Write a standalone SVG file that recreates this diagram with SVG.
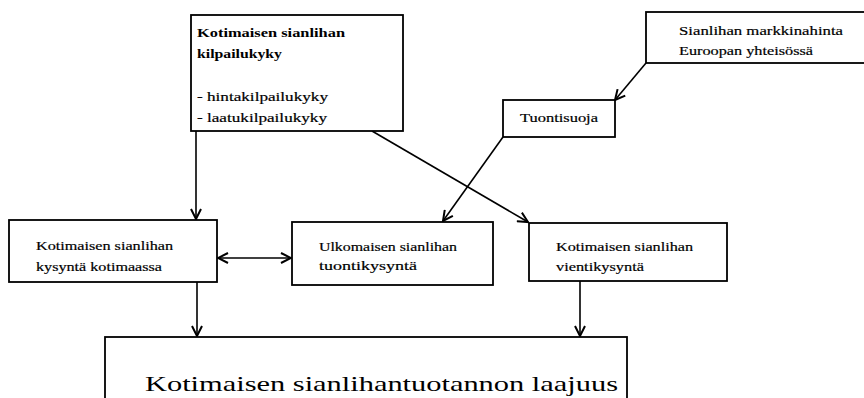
<svg xmlns="http://www.w3.org/2000/svg" width="864" height="398" viewBox="0 0 864 398">
<defs>
<style>
.box{fill:#fff;stroke:#000;stroke-width:1.8}
.t{font-size:13.5px;fill:#000;stroke:#000;stroke-width:0.2}
.b{font-weight:bold;stroke-width:0}
.big{font-size:22px;fill:#000}
.c{stroke:#000;stroke-width:1.6;fill:none}
</style>
<marker id="ah" viewBox="0 0 12 12" refX="11" refY="6" markerWidth="12" markerHeight="12" markerUnits="userSpaceOnUse" orient="auto-start-reverse">
<polyline points="1,1 11,6 1,11" fill="none" stroke="#000" stroke-width="2"/>
</marker>
</defs>
<rect width="864" height="398" fill="#fff"/>
<g id="connectors">
<line class="c" x1="196" y1="131" x2="196" y2="219" marker-end="url(#ah)"/>
<line class="c" x1="372" y1="131" x2="528" y2="222" marker-end="url(#ah)"/>
<line class="c" x1="646" y1="63" x2="615" y2="100" marker-end="url(#ah)"/>
<line class="c" x1="503" y1="137" x2="443" y2="221" marker-end="url(#ah)"/>
<line class="c" x1="218" y1="258" x2="291" y2="258" marker-start="url(#ah)" marker-end="url(#ah)"/>
<line class="c" x1="197" y1="282" x2="197" y2="336" marker-end="url(#ah)"/>
<line class="c" x1="580" y1="281" x2="580" y2="336" marker-end="url(#ah)"/>
</g>
<g font-family="Liberation Serif, Times New Roman, serif">
<g id="kilpailukyky">
<rect class="box" x="191" y="15" width="212" height="116"/>
<text class="t b" x="197" y="37" textLength="148" lengthAdjust="spacingAndGlyphs">Kotimaisen sianlihan</text>
<text class="t b" x="197" y="58" textLength="85" lengthAdjust="spacingAndGlyphs">kilpailukyky</text>
<text class="t" x="197" y="101" textLength="131" lengthAdjust="spacingAndGlyphs">- hintakilpailukyky</text>
<text class="t" x="197" y="122" textLength="130" lengthAdjust="spacingAndGlyphs">- laatukilpailukyky</text>
</g>
<g id="markkinahinta">
<rect class="box" x="646" y="12" width="222" height="51"/>
<text class="t" x="679" y="35" textLength="164" lengthAdjust="spacingAndGlyphs">Sianlihan markkinahinta</text>
<text class="t" x="679" y="55" textLength="134" lengthAdjust="spacingAndGlyphs">Euroopan yhteisössä</text>
</g>
<g id="tuontisuoja">
<rect class="box" x="503" y="100" width="112" height="37"/>
<text class="t" x="520" y="122" textLength="78" lengthAdjust="spacingAndGlyphs">Tuontisuoja</text>
</g>
<g id="kysynta">
<rect class="box" x="9" y="220" width="208" height="62"/>
<text class="t" x="36" y="250" textLength="137" lengthAdjust="spacingAndGlyphs">Kotimaisen sianlihan</text>
<text class="t" x="36" y="271" textLength="126" lengthAdjust="spacingAndGlyphs">kysyntä kotimaassa</text>
</g>
<g id="tuontikysynta">
<rect class="box" x="292" y="222" width="201" height="63"/>
<text class="t" x="319" y="251" textLength="138" lengthAdjust="spacingAndGlyphs">Ulkomaisen sianlihan</text>
<text class="t" x="319" y="270" textLength="98" lengthAdjust="spacingAndGlyphs">tuontikysyntä</text>
</g>
<g id="vientikysynta">
<rect class="box" x="529" y="223" width="198" height="58"/>
<text class="t" x="556" y="251" textLength="137" lengthAdjust="spacingAndGlyphs">Kotimaisen sianlihan</text>
<text class="t" x="556" y="271" textLength="88" lengthAdjust="spacingAndGlyphs">vientikysyntä</text>
</g>
<g id="laajuus">
<rect class="box" x="105" y="337" width="522" height="70"/>
<text class="big" x="145" y="391" textLength="473" lengthAdjust="spacingAndGlyphs">Kotimaisen sianlihantuotannon laajuus</text>
</g>
</g>
</svg>
